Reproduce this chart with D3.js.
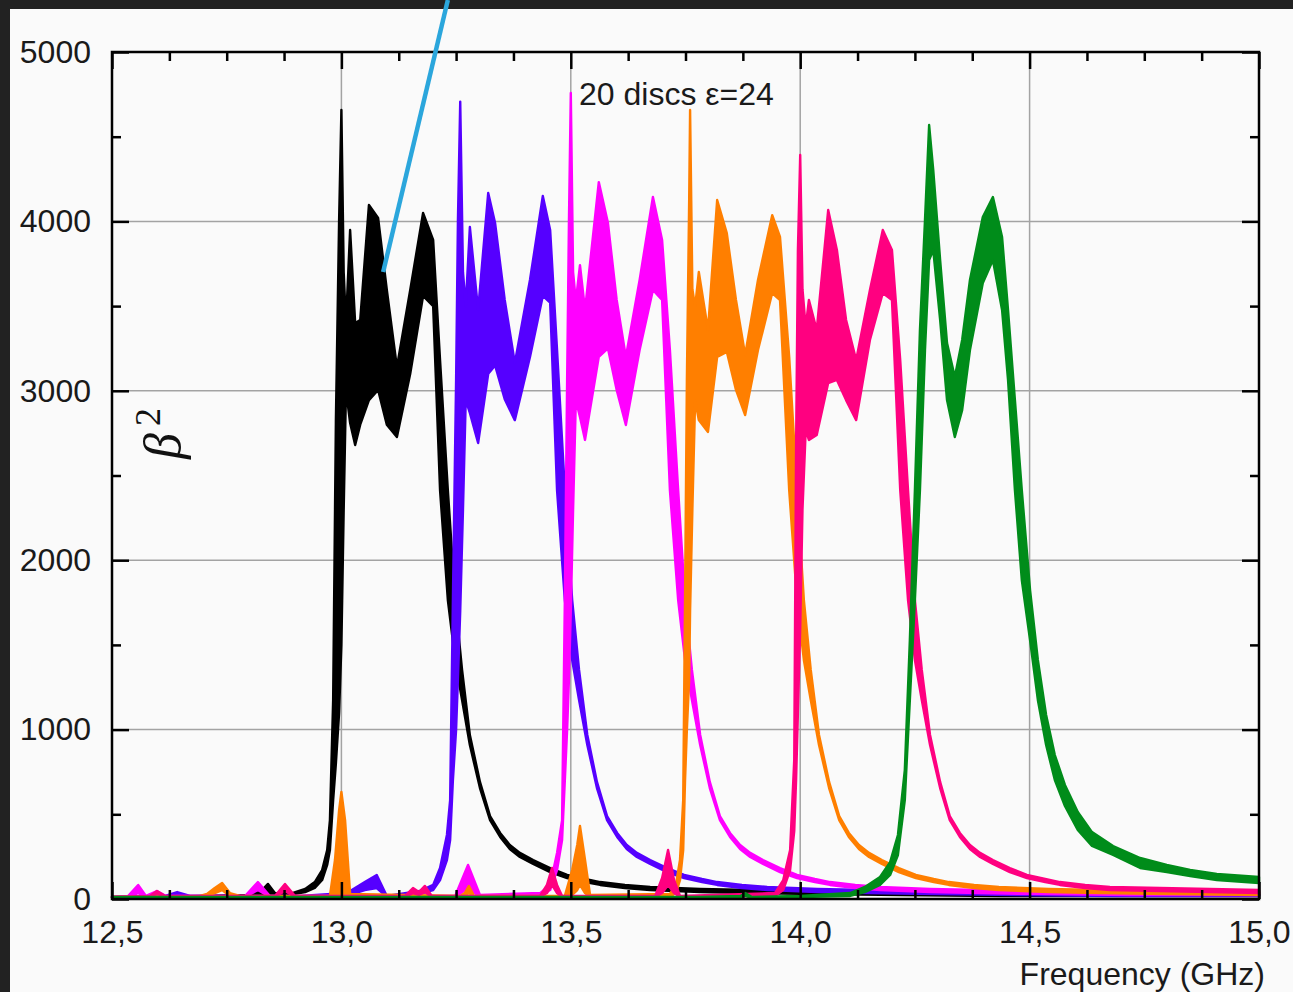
<!DOCTYPE html>
<html><head><meta charset="utf-8">
<script src="https://cdn.jsdelivr.net/npm/d3@7"></script>
<style>body{margin:0;background:#fafafa}</style></head>
<body>
<svg id="c" width="1293" height="992"></svg>
<script>
// ---- data (frequency in GHz, beta^2 lower / upper envelope of the trace bundle) ----
const blackF  = [12.5,12.692,12.801,12.827,12.840,12.855,12.888,12.921,12.942,12.958,12.969,12.975,12.982,12.988,12.995,13.0,13.005,13.010,13.019,13.030,13.041,13.060,13.080,13.099,13.121,13.150,13.178,13.200,13.215,13.232,13.248,13.263,13.280,13.302,13.324,13.346,13.367,13.389,13.418,13.455,13.492,13.531,13.564,13.618,13.673,13.782,13.891,14.0,14.218,14.435,15.0];
const blackLo = [12,18,18,24,35,24,24,41,65,112,201,289,584,800,1100,1500,2300,3005,2810,2680,2800,2945,3005,2800,2727,3100,3560,3500,2414,1765,1411,1175,909,655,466,366,295,248,207,159,124,100,83,65,53,41,35,30,24,18,18];
const blackHi = [12,18,24,53,89,35,30,59,100,171,289,466,1175,2828,4008,4658,3700,3400,3949,3400,3418,4097,4020,3595,3140,3595,4050,3890,3182,2414,1765,1352,968,691,490,390,319,272,230,183,142,118,100,83,71,59,53,47,41,35,30];

const purpleF  = [12.5,12.616,12.642,12.670,12.910,13.012,13.051,13.077,13.099,13.171,13.200,13.215,13.230,13.237,13.243,13.250,13.254,13.259,13.265,13.271,13.280,13.298,13.320,13.335,13.356,13.378,13.411,13.439,13.455,13.470,13.487,13.503,13.518,13.536,13.557,13.579,13.601,13.622,13.644,13.673,13.710,13.747,13.786,13.819,13.873,13.928,14.037,14.146,14.255,14.473,14.690,15.0];
const purpleLo = [12,12,18,12,12,18,53,65,12,30,53,112,230,348,700,1000,1300,1700,2300,2945,2869,2692,3100,3150,2950,2827,3200,3560,3520,2414,1765,1411,1175,909,655,466,366,295,248,207,159,124,100,83,65,53,41,35,30,24,18,18];
const purpleHi = [12,18,41,18,18,35,100,142,18,47,83,183,378,584,1765,3064,4008,4707,3700,3500,3967,3477,4168,3990,3536,3164,3654,4150,3949,3242,2414,1765,1352,968,691,490,390,319,272,230,183,142,118,100,83,71,59,53,47,41,35,30];

const magentaF  = [12.5,12.535,12.557,12.574,12.598,12.618,12.790,12.818,12.844,13.248,13.276,13.302,13.433,13.455,13.470,13.481,13.487,13.492,13.496,13.5,13.505,13.511,13.520,13.531,13.561,13.581,13.600,13.620,13.650,13.679,13.699,13.716,13.734,13.749,13.764,13.782,13.803,13.825,13.847,13.869,13.891,13.919,13.956,13.993,14.032,14.065,14.120,14.174,14.283,14.392,14.501,14.719,15.0];
const magentaLo = [12,12,35,12,30,12,12,53,12,12,65,12,24,53,171,348,700,1000,1300,1700,2300,2945,2845,2710,3200,3250,3005,2798,3241,3595,3536,2414,1765,1411,1175,909,655,466,366,295,248,207,159,124,100,83,65,53,41,35,30,24,24];
const magentaHi = [12,18,83,18,47,18,18,100,18,18,201,24,35,83,272,466,1765,3064,4008,4758,3700,3530,3742,3477,4232,3990,3536,3200,3654,4144,3890,3242,2414,1765,1352,968,691,490,390,319,272,230,183,142,118,100,83,71,59,53,47,41,41];

const orangeF  = [12.5,12.692,12.707,12.724,12.740,12.757,12.779,12.975,12.986,12.995,13.0,13.008,13.019,13.259,13.269,13.278,13.289,13.487,13.503,13.514,13.520,13.531,13.542,13.716,13.729,13.738,13.745,13.749,13.753,13.758,13.760,13.765,13.771,13.779,13.799,13.819,13.840,13.860,13.880,13.908,13.939,13.956,13.976,13.993,14.008,14.023,14.041,14.063,14.085,14.106,14.128,14.150,14.178,14.215,14.252,14.291,14.324,14.379,14.433,14.542,14.651,14.760,15.0];
const orangeLo = [12,12,18,35,53,18,12,12,18,24,24,24,18,12,18,35,12,12,24,53,83,35,12,12,35,112,289,700,1000,1300,1700,2300,2945,2827,2757,3200,3230,3005,2857,3241,3577,3536,2414,1765,1411,1175,909,655,466,366,295,248,207,159,124,100,83,65,53,41,35,30,24];
const orangeHi = [12,18,30,65,94,35,18,18,230,525,632,466,30,18,35,77,18,18,171,319,431,230,24,30,83,230,584,1765,3064,4126,4658,3600,3495,3701,3359,4126,3931,3536,3211,3654,4037,3908,3200,2414,1765,1352,968,691,490,390,319,272,230,183,142,118,100,83,71,59,53,47,41];

const pinkF  = [12.5,12.583,12.598,12.616,12.855,12.877,12.899,13.139,13.156,13.169,13.182,13.197,13.433,13.448,13.459,13.470,13.481,13.684,13.699,13.712,13.725,13.738,13.945,13.963,13.978,13.987,13.991,13.995,14.0,14.005,14.012,14.019,14.036,14.061,14.080,14.100,14.122,14.152,14.180,14.200,14.218,14.235,14.250,14.265,14.283,14.305,14.326,14.348,14.370,14.392,14.420,14.457,14.494,14.534,14.566,14.621,14.675,14.784,14.893,15.0];
const pinkLo = [12,12,30,12,12,47,12,12,35,24,41,12,12,35,83,35,12,12,35,83,35,12,18,53,171,400,700,1100,1600,2300,2768,2710,2739,3046,3064,2945,2827,3300,3577,3536,2414,1765,1411,1175,909,655,466,366,295,248,207,159,124,100,83,65,53,47,41,35];
const pinkHi = [12,18,47,18,18,89,18,18,65,41,77,18,18,83,183,83,18,18,124,289,112,18,35,112,289,821,2650,3831,4392,3600,3376,3536,3359,4067,3831,3418,3182,3595,3949,3831,3182,2414,1765,1352,968,691,490,390,319,272,230,183,142,118,100,83,71,65,59,53];

const greenF  = [12.5,13.782,13.870,13.880,13.895,14.0,14.109,14.141,14.174,14.196,14.213,14.228,14.239,14.250,14.261,14.272,14.281,14.290,14.305,14.320,14.337,14.353,14.370,14.398,14.420,14.440,14.453,14.468,14.483,14.501,14.518,14.536,14.555,14.577,14.605,14.636,14.682,14.741,14.799,14.850,14.908,15.0];
const greenLo = [6,6,12,18,6,12,18,41,83,142,260,584,1175,1765,2414,3241,3772,3831,3418,2945,2727,2886,3241,3636,3772,3477,3064,2414,1883,1529,1175,909,702,549,407,313,260,183,159,136,112,94];
const greenHi = [12,12,18,35,12,18,35,71,130,218,378,761,1529,2414,3359,4008,4569,4303,3772,3282,3081,3300,3654,4026,4144,3908,3477,2945,2414,1824,1411,1086,850,673,514,395,313,242,201,171,148,130];

const xMajor = [12.5,13.0,13.5,14.0,14.5,15.0];
const xMinor = [12.625,12.75,12.875,13.125,13.25,13.375,13.625,13.75,13.875,14.125,14.25,14.375,14.625,14.75,14.875];
const yMajor = [0,1000,2000,3000,4000,5000];
const yMinor = [500,1500,2500,3500,4500];
const gridX = [13.0,13.5,14.0,14.5];
const gridY = [1000,2000,3000,4000];
const blueLine = [[13.091,3701],[13.232,5307]];
const noteText = "20 discs \u03b5=24";
const xTitle = "Frequency (GHz)";

// ---- drawing ----
const W=1293,H=992;
const svg=d3.select('#c');
svg.append('rect').attr('width',W).attr('height',H).attr('fill','#fafafa');
svg.append('rect').attr('x',0).attr('y',0).attr('width',W).attr('height',9).attr('fill','#222');
svg.append('rect').attr('x',0).attr('y',0).attr('width',10).attr('height',H).attr('fill','#222');

const x=d3.scaleLinear().domain([12.5,15]).range([112,1259]);
const y=d3.scaleLinear().domain([0,5000]).range([899,52]);

const grid=svg.append('g').attr('stroke','#a3a3a3').attr('stroke-width',1.5);
gridX.forEach(v=>grid.append('line').attr('x1',x(v)).attr('x2',x(v)).attr('y1',y(0)).attr('y2',y(5000)));
gridY.forEach(v=>grid.append('line').attr('x1',x(12.5)).attr('x2',x(15)).attr('y1',y(v)).attr('y2',y(v)));

const series=[
 {f:blackF,lo:blackLo,hi:blackHi,c:'#000000'},
 {f:purpleF,lo:purpleLo,hi:purpleHi,c:'#5500ff'},
 {f:magentaF,lo:magentaLo,hi:magentaHi,c:'#ff00ff'},
 {f:orangeF,lo:orangeLo,hi:orangeHi,c:'#ff7f00'},
 {f:pinkF,lo:pinkLo,hi:pinkHi,c:'#ff0080'},
 {f:greenF,lo:greenLo,hi:greenHi,c:'#008c1a'}
];
const area=d3.area().x(d=>x(d[0])).y0(d=>y(d[1])).y1(d=>y(d[2]));
const sg=svg.append('g');
series.forEach(s=>{
  const pts=s.f.map((f,i)=>[f,s.lo[i],s.hi[i]]);
  sg.append('path').attr('d',area(pts)).attr('fill',s.c).attr('stroke',s.c)
    .attr('stroke-width',2.4).attr('stroke-linejoin','round');
});

// axes
const fmt=d=>d3.format('.1f')(d).replace('.',',');
function styleAxis(g){
  g.select('.domain').remove();
  g.selectAll('.tick line').attr('stroke','#000').attr('stroke-width',2.5);
  g.selectAll('.tick text').attr('fill','#1a1a1a').style('font-family','"Liberation Sans",Arial,sans-serif').style('font-size','32px');
}
svg.append('g').attr('transform',`translate(0,${y(0)})`).call(d3.axisBottom(x).tickValues(xMajor).tickSize(-17).tickPadding(21).tickFormat(fmt)).call(styleAxis);
svg.append('g').attr('transform',`translate(0,${y(0)})`).call(d3.axisBottom(x).tickValues(xMinor).tickSize(-9).tickFormat('')).call(styleAxis);
svg.append('g').attr('transform',`translate(0,${y(5000)})`).call(d3.axisTop(x).tickValues(xMajor).tickSize(-17).tickFormat('')).call(styleAxis);
svg.append('g').attr('transform',`translate(0,${y(5000)})`).call(d3.axisTop(x).tickValues(xMinor).tickSize(-9).tickFormat('')).call(styleAxis);
svg.append('g').attr('transform',`translate(${x(12.5)},0)`).call(d3.axisLeft(y).tickValues(yMajor).tickSize(-17).tickPadding(21).tickFormat(d3.format('d'))).call(styleAxis);
svg.append('g').attr('transform',`translate(${x(12.5)},0)`).call(d3.axisLeft(y).tickValues(yMinor).tickSize(-9).tickFormat('')).call(styleAxis);
svg.append('g').attr('transform',`translate(${x(15)},0)`).call(d3.axisRight(y).tickValues(yMajor).tickSize(-17).tickFormat('')).call(styleAxis);
svg.append('g').attr('transform',`translate(${x(15)},0)`).call(d3.axisRight(y).tickValues(yMinor).tickSize(-9).tickFormat('')).call(styleAxis);

svg.append('rect').attr('x',x(12.5)).attr('y',y(5000)).attr('width',x(15)-x(12.5)).attr('height',y(0)-y(5000))
  .attr('fill','none').attr('stroke','#000').attr('stroke-width',2.5);

// texts
svg.append('text').attr('x',1265).attr('y',985).attr('text-anchor','end')
  .style('font-family','"Liberation Sans",Arial,sans-serif').style('font-size','32px').attr('fill','#1a1a1a').text(xTitle);
svg.append('text').attr('x',x(13.518)).attr('y',105)
  .style('font-family','"Liberation Sans",Arial,sans-serif').style('font-size','32px').attr('fill','#1a1a1a').text(noteText);
svg.append('text').attr('transform','translate(180,446) rotate(-90)').attr('text-anchor','middle')
  .style('font-family','"Liberation Serif","Times New Roman",serif').style('font-style','italic').style('font-size','52px').attr('fill','#111').text('\u03b2');
svg.append('text').attr('transform','translate(160,417) rotate(-90)').attr('text-anchor','middle')
  .style('font-family','"Liberation Serif","Times New Roman",serif').style('font-size','36px').attr('fill','#111').text('2');

// annotation line
svg.append('path').attr('d',d3.line().x(d=>x(d[0])).y(d=>y(d[1]))(blueLine))
  .attr('stroke','#2ba6dc').attr('stroke-width',4.5).attr('fill','none');
</script>
</body></html>
